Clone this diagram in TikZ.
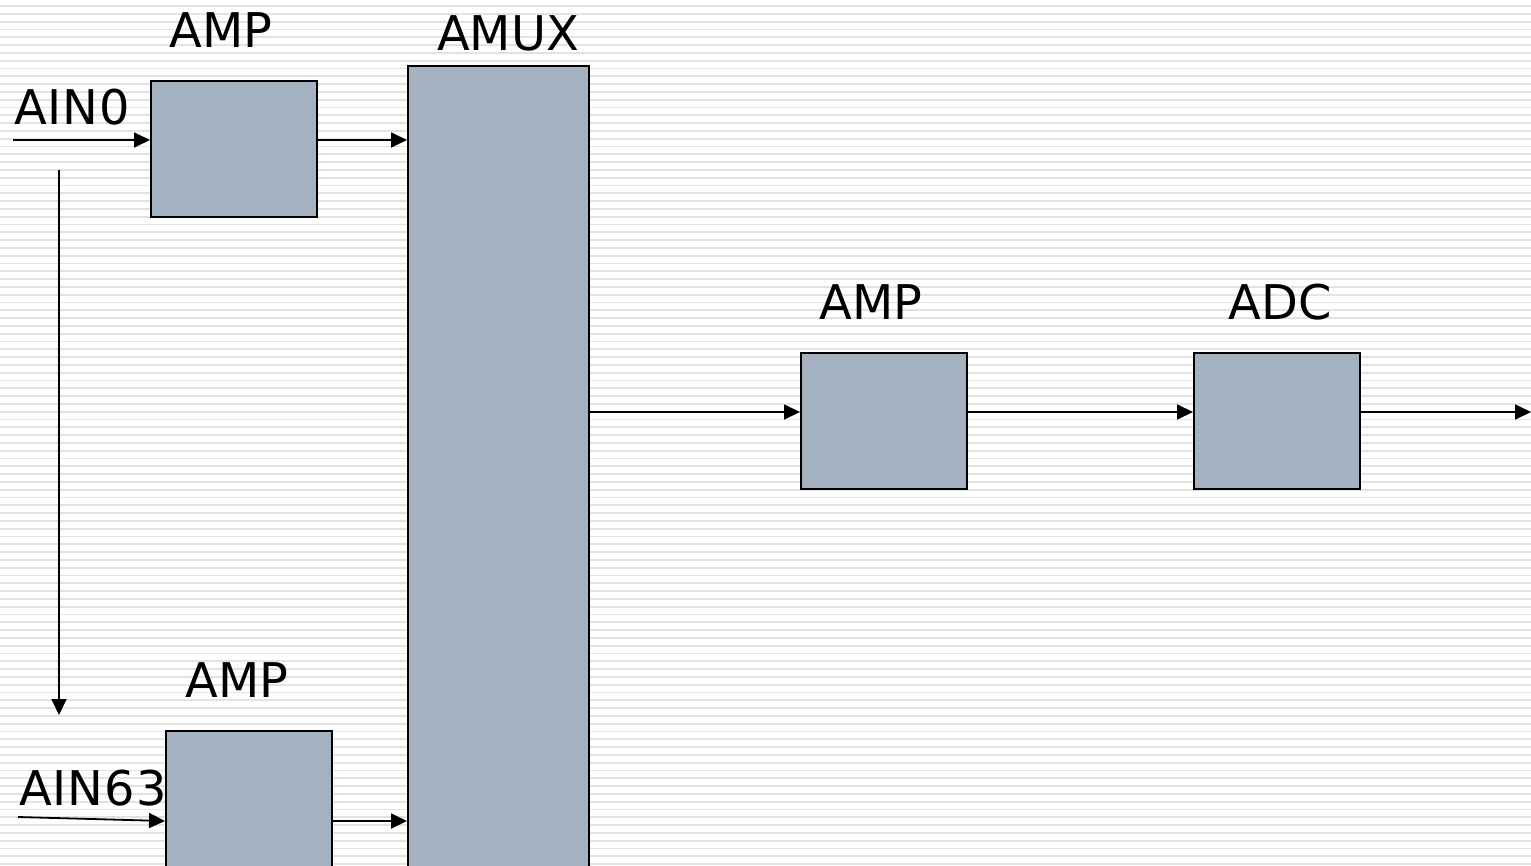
\documentclass[tikz,border=0pt]{standalone}
\usepackage{fontspec}
\setmainfont{DejaVu Sans}
\usepackage{tikz}
\usetikzlibrary{positioning, arrows.meta, calc}

\definecolor{boxfill}{HTML}{A3B1C1}
\definecolor{stripe}{HTML}{E2E2E2}

\begin{document}
\begin{tikzpicture}[
    x=1bp, y=-1bp,
    >={Triangle[length=16bp, width=15bp]},
    block/.style={
        draw, line width=1.5bp, fill=boxfill,
        anchor=north west, inner sep=0pt,
        minimum width=166bp, minimum height=136bp
    },
    lbl/.style={font=\fontsize{48}{56}\selectfont, anchor=base, inner sep=0pt},
    arr/.style={->, line width=1.8bp}
]
    \useasboundingbox (0,0) rectangle (1531,865);
    \clip (0,0) rectangle (1531,865);
    \fill[white] (0,0) rectangle (1531,865);
    % background stripes
    \foreach \k in {0,...,111}
        \draw[stripe, line width=1.8bp] (0,{6+7.8*\k}) -- (1531,{6+7.8*\k});

    \node[block] (amp0) at (150,80) {};
    \node[block, minimum width=181bp, minimum height=830bp] (amux) at (407,65) {};
    \node[block] (amp63) at (165,730) {};
    \node[block] (amp) at (800,352) {};
    \node[block] (adc) at (1193,352) {};

    \node[lbl] at (221,47) {AMP};
    \node[lbl] at (508,50) {AMUX};
    \node[lbl] at (237,697) {AMP};
    \node[lbl] at (871,319) {AMP};
    \node[lbl] at (1280,319) {ADC};
    \node[lbl, anchor=base west] at (14,124) {A\kern1bp I\kern1bp N\kern1bp 0};
    \node[lbl, anchor=base west] at (19,805) {A\kern1bp I\kern1bp N\kern1bp 6\kern1bp 3};

    \coordinate (in0) at (13,140);
    \coordinate (in63) at (18,817);
    \coordinate (top) at (59,170);
    \coordinate (bot) at (59,715);
    \coordinate (mid) at (0,412);
    \coordinate (low) at (0,821);
    \coordinate (out) at (1531,412);

    \draw[arr] (in0) -- (amp0.west |- in0);
    \draw[arr] (amp0.east |- in0) -- (amux.west |- in0);
    \draw[arr] (top) -- (bot);
    \draw[arr] (in63) -- (amp63.west |- low);
    \draw[arr] (amp63.east |- low) -- (amux.west |- low);
    \draw[arr] (amux.east |- mid) -- (amp.west |- mid);
    \draw[arr] (amp.east |- mid) -- (adc.west |- mid);
    \draw[arr] (adc.east |- mid) -- (out);
\end{tikzpicture}
\end{document}
